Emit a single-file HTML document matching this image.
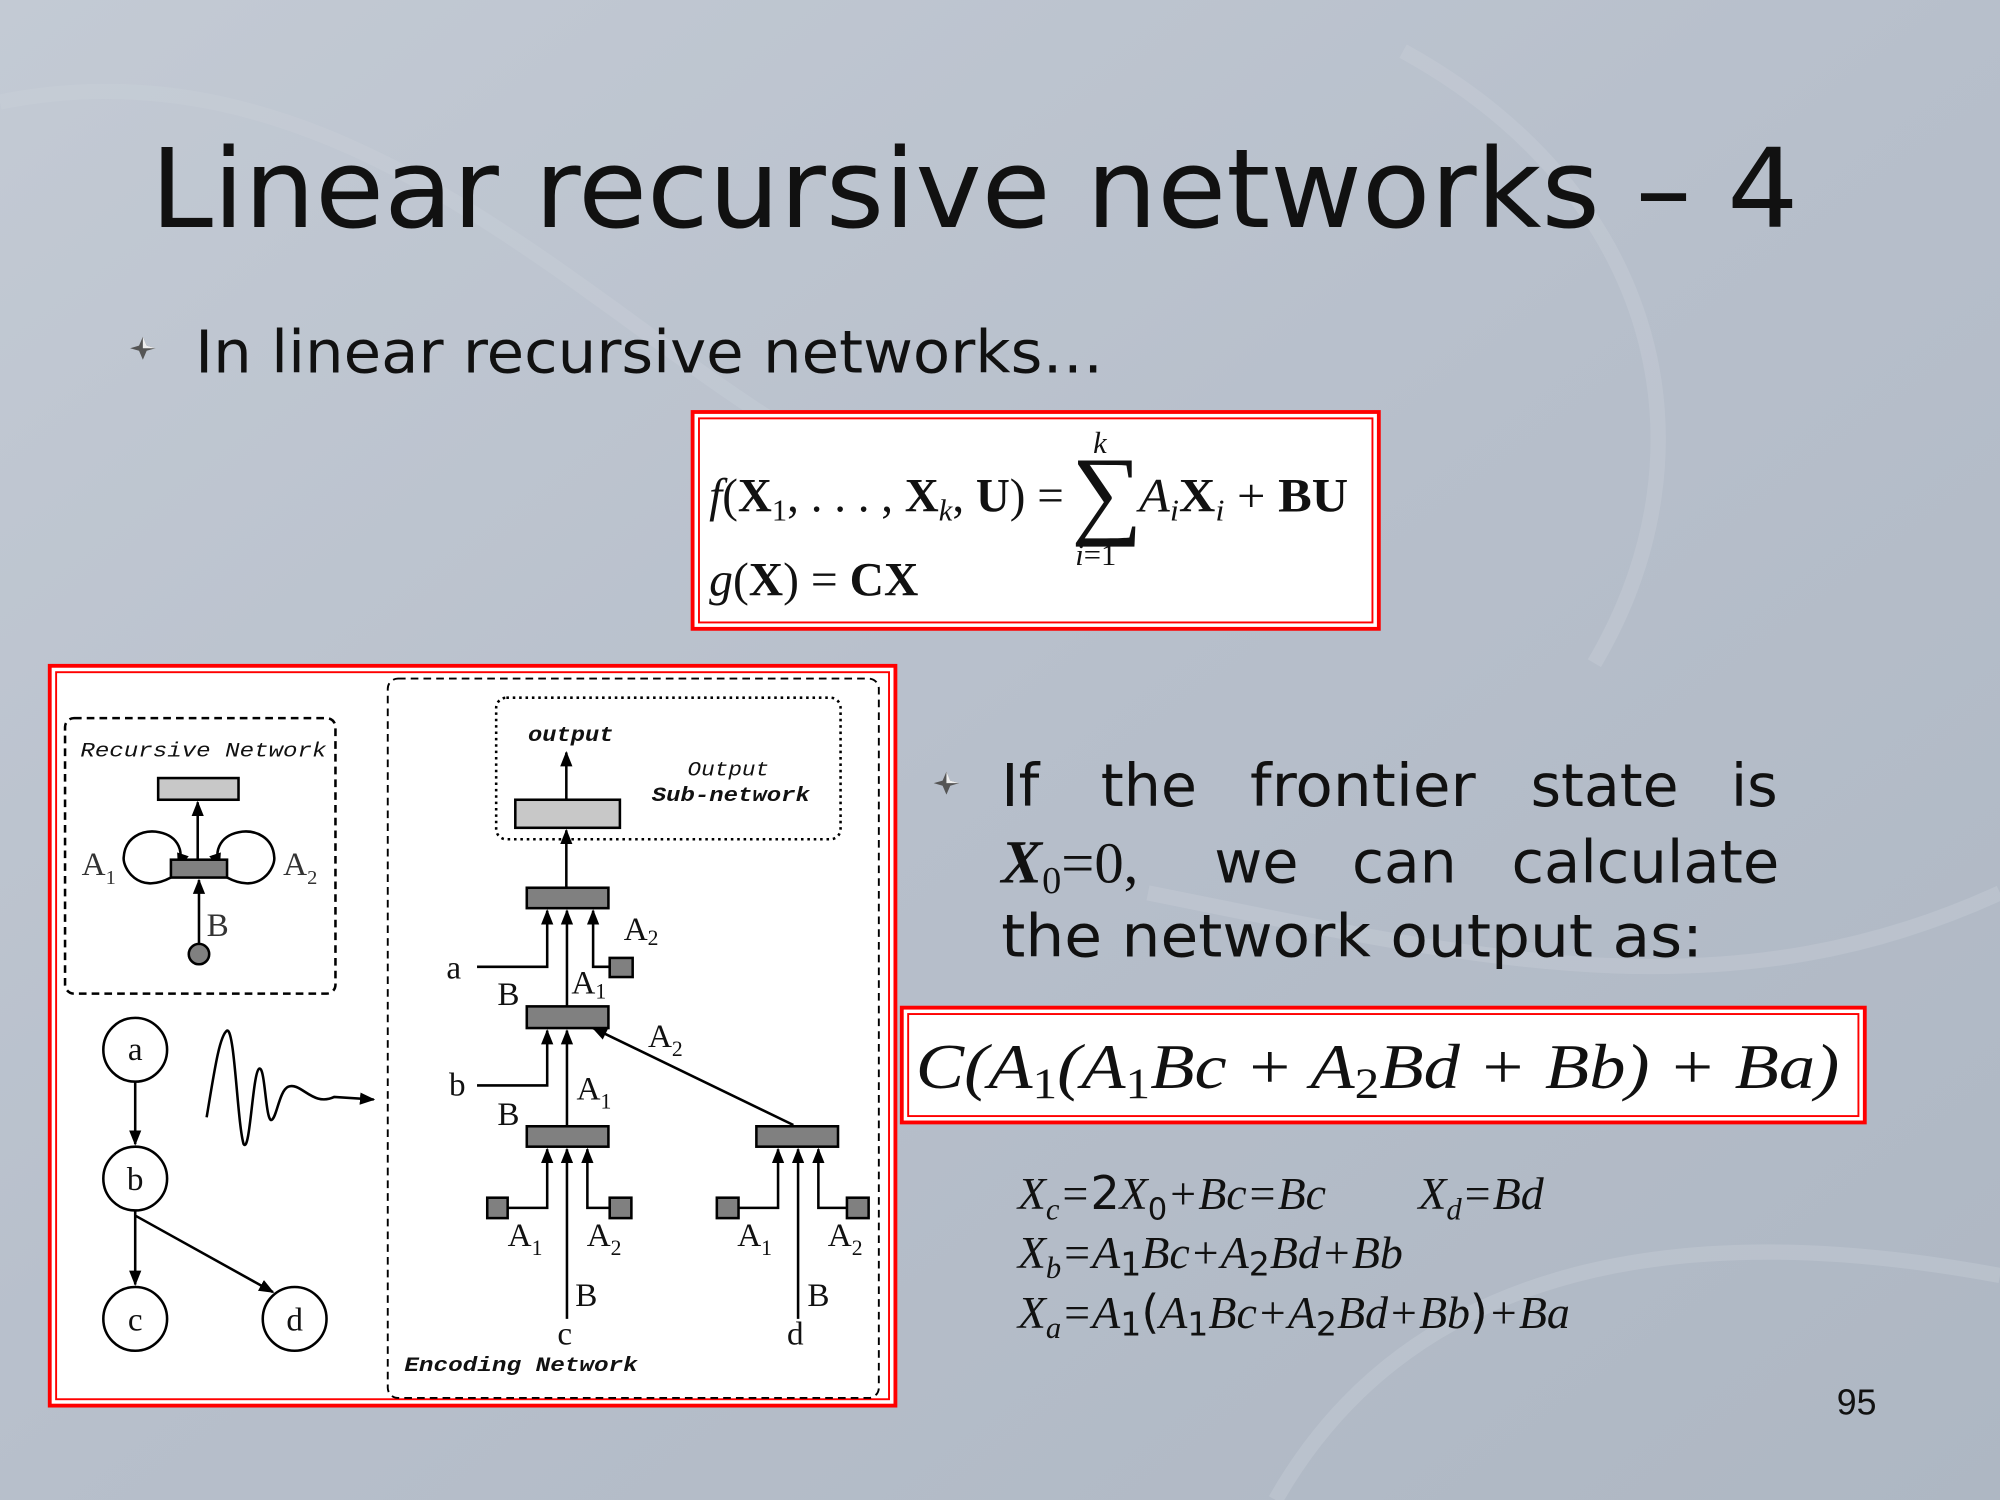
<!DOCTYPE html>
<html><head><meta charset="utf-8"><style>
html,body{margin:0;padding:0;overflow:hidden;background:#b9c1cc}
svg{display:block}
</style></head><body>
<svg width="2000" height="1500" viewBox="0 0 1568 1176" xmlns="http://www.w3.org/2000/svg">
<defs>
<linearGradient id="bg" x1="0" y1="0" x2="1" y2="1">
<stop offset="0" stop-color="#c3cad4"/><stop offset="0.5" stop-color="#b7bfcb"/><stop offset="1" stop-color="#aeb7c3"/>
</linearGradient>
<marker id="ah" viewBox="0 0 10 10" refX="9" refY="5" markerWidth="6" markerHeight="6" orient="auto-start-reverse"><path d="M0,1 L10,5 L0,9 z" fill="#000"/></marker>
<g id="bul"><polygon points="0,-9 3,-2 10,0 3,2 0,9 -3,2 -10,0 -3,-2" fill="#555"/><polygon points="0,-9 3,-2 10,0 0,0" fill="#eee"/></g>
</defs>
<rect width="1568" height="1176" fill="url(#bg)"/>
<g fill="none" stroke="#ccd2da" stroke-width="12" opacity="0.35">
<path d="M0,80 C300,20 500,300 700,380"/>
<path d="M1100,40 C1300,150 1350,350 1250,520"/>
<path d="M900,700 C1150,750 1350,800 1568,700"/>
<path d="M1000,1176 C1100,1000 1300,950 1568,1000"/>
</g>

<text x="118" y="178" font-family="DejaVu Sans, sans-serif" font-size="86" fill="#111" textLength="1292" lengthAdjust="spacingAndGlyphs">Linear recursive networks – 4</text>
<use href="#bul" x="112" y="273"/>
<text x="153" y="292" font-family="DejaVu Sans, sans-serif" font-size="46" fill="#111" textLength="712" lengthAdjust="spacingAndGlyphs">In linear recursive networks…</text>

<!-- formula box 1 -->
<rect x="543" y="323" width="538" height="170" fill="#fff" stroke="#ff0000" stroke-width="3"/>
<rect x="548" y="328" width="528" height="160" fill="none" stroke="#ff0000" stroke-width="1.5"/>
<g font-family="Liberation Serif, serif" font-size="37" fill="#111">
<text x="556" y="401" textLength="278" lengthAdjust="spacingAndGlyphs"><tspan font-style="italic">f</tspan>(<tspan font-weight="bold">X</tspan><tspan font-size="24" dy="7">1</tspan><tspan dy="-7">, . . . , </tspan><tspan font-weight="bold">X</tspan><tspan font-size="24" font-style="italic" dy="7">k</tspan><tspan dy="-7">, </tspan><tspan font-weight="bold">U</tspan>) =</text>
<text x="840" y="412" font-size="78">∑</text>
<text x="857" y="355" font-size="24" font-style="italic">k</text>
<text x="843" y="443" font-size="24"><tspan font-style="italic">i</tspan>=1</text>
<text x="893" y="401" textLength="164" lengthAdjust="spacingAndGlyphs"><tspan font-style="italic">A</tspan><tspan font-size="24" font-style="italic" dy="7">i</tspan><tspan dy="-7" font-weight="bold">X</tspan><tspan font-size="24" font-style="italic" dy="7">i</tspan><tspan dy="-7"> + </tspan><tspan font-weight="bold">BU</tspan></text>
<text x="556" y="467" textLength="164" lengthAdjust="spacingAndGlyphs"><tspan font-style="italic">g</tspan>(<tspan font-weight="bold">X</tspan>) = <tspan font-weight="bold">CX</tspan></text>
</g>

<!-- diagram box -->
<rect x="39" y="522" width="663" height="580" fill="#fff" stroke="#ff0000" stroke-width="3"/>
<rect x="44" y="527" width="653" height="570" fill="none" stroke="#ff0000" stroke-width="1.5"/>

<g stroke="#000" fill="none" stroke-width="2">
<rect x="51" y="563" width="212" height="216" rx="7" stroke-dasharray="6,4"/>
<rect x="304" y="532" width="385" height="564" rx="8" stroke-dasharray="6,4" stroke-width="1.5"/>
<rect x="389" y="547" width="270" height="111" rx="8" stroke-dasharray="2,3"/>
</g>
<g font-family="Liberation Mono, monospace" font-style="italic" fill="#111">
<text x="63" y="593" font-size="16" textLength="193" lengthAdjust="spacingAndGlyphs">Recursive Network</text>
<text x="414" y="581" font-size="17" font-weight="bold" textLength="67" lengthAdjust="spacingAndGlyphs">output</text>
<text x="539" y="608" font-size="16" textLength="64" lengthAdjust="spacingAndGlyphs">Output</text>
<text x="511" y="628" font-size="16" font-weight="bold" textLength="124" lengthAdjust="spacingAndGlyphs">Sub-network</text>
<text x="317" y="1075" font-size="16" font-weight="bold" textLength="183" lengthAdjust="spacingAndGlyphs">Encoding Network</text>
</g>

<!-- recursive network internals -->
<g stroke="#000" stroke-width="2">
<rect x="124" y="610" width="63" height="17" fill="#c8c8c8"/>
<line x1="155" y1="674" x2="155" y2="629" marker-end="url(#ah)"/>
<path d="M134,688 C108,702 96,680 97,672 C98,656 112,651 122,652 C138,654 145,665 140,680" fill="none" marker-end="url(#ah)"/>
<path d="M178,688 C204,702 216,680 215,672 C214,656 200,651 190,652 C174,654 167,665 172,680" fill="none" marker-end="url(#ah)"/>
<rect x="134" y="674" width="44" height="14" fill="#808080"/>
<line x1="156" y1="741" x2="156" y2="690" marker-end="url(#ah)"/>
<circle cx="156" cy="748" r="8" fill="#808080"/>
</g>
<g font-family="Liberation Serif, serif" font-size="26" fill="#333">
<text x="64" y="686">A<tspan font-size="16" dy="7">1</tspan></text>
<text x="222" y="686">A<tspan font-size="16" dy="7">2</tspan></text>
<text x="162" y="734">B</text>
</g>

<!-- tree -->
<g stroke="#000" stroke-width="2" fill="#fff">
<circle cx="106" cy="823" r="25"/>
<circle cx="106" cy="924" r="25"/>
<circle cx="106" cy="1034" r="25"/>
<circle cx="231" cy="1034" r="25"/>
<line x1="106" y1="848" x2="106" y2="897" marker-end="url(#ah)"/>
<line x1="106" y1="949" x2="106" y2="1007" marker-end="url(#ah)"/>
<line x1="106" y1="953" x2="214" y2="1013" marker-end="url(#ah)"/>
<path d="M162,876 C168,840 172,812 178,808 C184,806 186,880 191,897 C196,905 198,842 203,838 C208,834 208,880 213,878 C217,876 219,855 226,852 C236,848 245,868 262,860 L293,862" fill="none" marker-end="url(#ah)"/>
</g>
<g font-family="Liberation Serif, serif" font-size="26" fill="#111" text-anchor="middle">
<text x="106" y="831">a</text><text x="106" y="933">b</text><text x="106" y="1043">c</text><text x="231" y="1043">d</text>
</g>

<!-- encoding network -->
<g stroke="#000" stroke-width="2" fill="none">
<line x1="444" y1="627" x2="444" y2="590" marker-end="url(#ah)"/>
<line x1="444" y1="696" x2="444" y2="651" marker-end="url(#ah)"/>
<rect x="404" y="627" width="82" height="22" fill="#c8c8c8"/>
<polyline points="374,758 429,758 429,714" marker-end="url(#ah)"/>
<line x1="444.5" y1="789" x2="444.5" y2="714" marker-end="url(#ah)"/>
<polyline points="478,758 465,758 465,714" marker-end="url(#ah)"/>
<polyline points="374,851 429,851 429,808" marker-end="url(#ah)"/>
<line x1="444.5" y1="883" x2="444.5" y2="808" marker-end="url(#ah)"/>
<line x1="622" y1="882" x2="465" y2="806" marker-end="url(#ah)"/>
<polyline points="398,947 429,947 429,901" marker-end="url(#ah)"/>
<line x1="444.5" y1="1034" x2="444.5" y2="901" marker-end="url(#ah)"/>
<polyline points="478,947 460.5,947 460.5,901" marker-end="url(#ah)"/>
<polyline points="579,947 610,947 610,901" marker-end="url(#ah)"/>
<line x1="625.7" y1="1034" x2="625.7" y2="901" marker-end="url(#ah)"/>
<polyline points="664,947 641.6,947 641.6,901" marker-end="url(#ah)"/>
</g>
<g stroke="#000" stroke-width="2" fill="#808080">
<rect x="413" y="696" width="64" height="16"/>
<rect x="413" y="789" width="64" height="17"/>
<rect x="413" y="883" width="64" height="16"/>
<rect x="593" y="883" width="64" height="16"/>
<rect x="478" y="751" width="18" height="15"/>
<rect x="382" y="939" width="16" height="16"/>
<rect x="478" y="939" width="17" height="16"/>
<rect x="562" y="939" width="17" height="16"/>
<rect x="664" y="939" width="17" height="16"/>
</g>
<g font-family="Liberation Serif, serif" font-size="26" fill="#111">
<text x="350" y="767">a</text>
<text x="352" y="859">b</text>
<text x="489" y="737">A<tspan font-size="17" dy="4">2</tspan></text>
<text x="390" y="788">B</text>
<text x="448" y="779">A<tspan font-size="17" dy="4">1</tspan></text>
<text x="508" y="821">A<tspan font-size="17" dy="7">2</tspan></text>
<text x="452" y="862">A<tspan font-size="17" dy="7">1</tspan></text>
<text x="390" y="882">B</text>
<text x="398" y="977">A<tspan font-size="17" dy="7">1</tspan></text>
<text x="460" y="977">A<tspan font-size="17" dy="7">2</tspan></text>
<text x="578" y="977">A<tspan font-size="17" dy="7">1</tspan></text>
<text x="649" y="977">A<tspan font-size="17" dy="7">2</tspan></text>
<text x="451" y="1024">B</text>
<text x="633" y="1024">B</text>
<text x="437" y="1054">c</text>
<text x="617" y="1054">d</text>
</g>

<!-- right text -->
<use href="#bul" x="742" y="614"/>
<g font-family="DejaVu Sans, sans-serif" font-size="46" fill="#111">
<text x="785" y="632">If</text>
<text x="863" y="632">the</text>
<text x="980" y="632" textLength="177" lengthAdjust="spacingAndGlyphs">frontier</text>
<text x="1200" y="632" textLength="116" lengthAdjust="spacingAndGlyphs">state</text>
<text x="1357" y="632">is</text>
<text x="785" y="692"><tspan font-family="Liberation Serif, serif" font-style="italic" font-weight="bold" font-size="48">X</tspan><tspan font-family="Liberation Serif, serif" font-size="30" dy="8">0</tspan><tspan font-family="Liberation Serif, serif" font-size="46" dy="-8">=0,</tspan></text>
<text x="952" y="692" textLength="66" lengthAdjust="spacingAndGlyphs">we</text>
<text x="1060" y="692" textLength="82" lengthAdjust="spacingAndGlyphs">can</text>
<text x="1185" y="692" textLength="210" lengthAdjust="spacingAndGlyphs">calculate</text>
<text x="785" y="750" textLength="550" lengthAdjust="spacingAndGlyphs">the network output as:</text>
</g>

<!-- formula box 2 -->
<rect x="707" y="790" width="755" height="90" fill="#fff" stroke="#ff0000" stroke-width="3"/>
<rect x="712" y="795" width="745" height="80" fill="none" stroke="#ff0000" stroke-width="1.5"/>
<text x="718" y="853" font-family="Liberation Serif, serif" font-size="50" font-style="italic" fill="#111" textLength="724" lengthAdjust="spacingAndGlyphs">C(A<tspan font-style="normal" font-size="34" dy="8">1</tspan><tspan dy="-8">(A</tspan><tspan font-style="normal" font-size="34" dy="8">1</tspan><tspan dy="-8">Bc + A</tspan><tspan font-style="normal" font-size="34" dy="8">2</tspan><tspan dy="-8">Bd + Bb) + Ba)</tspan></text>

<!-- equations -->
<g font-family="Liberation Serif, serif" font-size="36" font-style="italic" fill="#111">
<text x="798" y="948">X<tspan font-size="24" dy="8">c</tspan><tspan dy="-8">=</tspan><tspan font-style="normal" font-family="DejaVu Sans, sans-serif">2</tspan>X<tspan font-size="24" font-style="normal" font-family="DejaVu Sans, sans-serif" dy="8">0</tspan><tspan dy="-8">+Bc=Bc</tspan></text>
<text x="1112" y="948">X<tspan font-size="24" dy="8">d</tspan><tspan dy="-8">=Bd</tspan></text>
<text x="798" y="994">X<tspan font-size="24" dy="8">b</tspan><tspan dy="-8">=A</tspan><tspan font-size="26" font-style="normal" font-family="DejaVu Sans, sans-serif" dy="6">1</tspan><tspan dy="-6">Bc+A</tspan><tspan font-size="26" font-style="normal" font-family="DejaVu Sans, sans-serif" dy="6">2</tspan><tspan dy="-6">Bd+Bb</tspan></text>
<text x="798" y="1041">X<tspan font-size="24" dy="8">a</tspan><tspan dy="-8">=A</tspan><tspan font-size="26" font-style="normal" font-family="DejaVu Sans, sans-serif" dy="6">1</tspan><tspan dy="-6" font-style="normal" font-family="DejaVu Sans, sans-serif">(</tspan>A<tspan font-size="26" font-style="normal" font-family="DejaVu Sans, sans-serif" dy="6">1</tspan><tspan dy="-6">Bc+A</tspan><tspan font-size="26" font-style="normal" font-family="DejaVu Sans, sans-serif" dy="6">2</tspan><tspan dy="-6">Bd+Bb</tspan><tspan font-style="normal" font-family="DejaVu Sans, sans-serif">)</tspan>+Ba</text>
</g>

<text x="1440" y="1109" font-family="Liberation Sans, sans-serif" font-size="28" fill="#111">95</text>
</svg>
</body></html>
